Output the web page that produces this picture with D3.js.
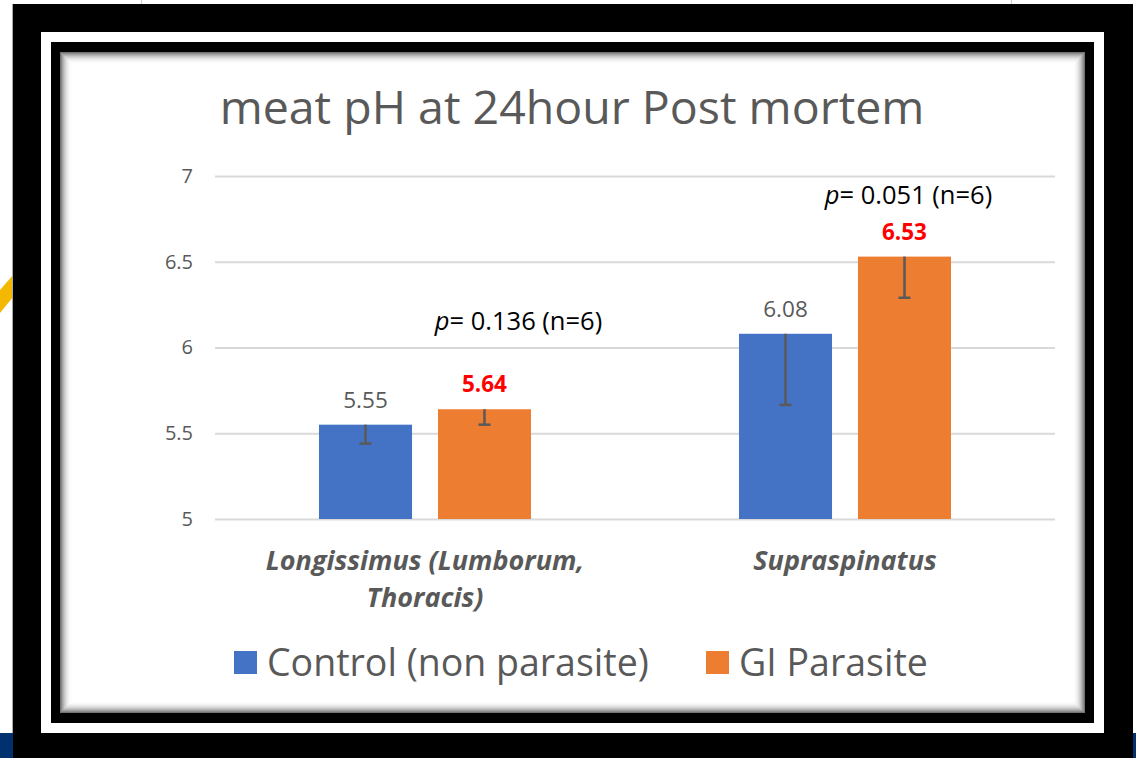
<!DOCTYPE html>
<html>
<head>
<meta charset="utf-8">
<script src="https://cdn.jsdelivr.net/npm/d3@7"></script>
<style>
	html, body { margin: 0; padding: 0; background: #fff; }
	svg { display: block; font-family: "Open Sans", Lato, sans-serif; }
</style>
</head>
<body>
<div id="chart"></div>
<script>
(function() {
	"use strict";

	// chart data
	var categories = ["Longissimus (Lumborum, Thoracis)", "Supraspinatus"];
	var categoryLines = [["Longissimus (Lumborum,", "Thoracis)"], ["Supraspinatus"]];
	var series = ["Control (non parasite)", "GI Parasite"];
	var controlValues = [5.55, 6.08];
	var parasiteValues = [5.64, 6.53];
	var controlErrMinus = [0.11, 0.415];
	var parasiteErrMinus = [0.09, 0.24];
	var pValues = ["0.136", "0.051"];
	var nValues = [6, 6];
	var yTicks = [5, 5.5, 6, 6.5, 7];

	var colors = ["#4472C4", "#ED7D31"];
	var labelColors = ["#595959", "#FF0000"];

	var width = 1136, height = 758;
	var svg = d3.select("#chart").append("svg")
		.attr("width", width)
		.attr("height", height);

	// --- screenshot framing ---
	svg.append("rect").attr("x", 0).attr("y", 733).attr("width", 13).attr("height", 25).attr("fill", "#00306e");
	svg.append("rect").attr("x", 1133).attr("y", 733).attr("width", 3).attr("height", 25).attr("fill", "#00306e");
	svg.append("polygon").attr("points", "0,290 13,275 13,297 0,313").attr("fill", "#f5b800");
	svg.append("line").attr("x1", 141.5).attr("x2", 141.5).attr("y1", 0).attr("y2", 4).attr("stroke", "#ccc");
	svg.append("line").attr("x1", 1011.5).attr("x2", 1011.5).attr("y1", 0).attr("y2", 4).attr("stroke", "#ccc");
	svg.append("line").attr("x1", 12.5).attr("x2", 12.5).attr("y1", 4).attr("y2", 733).attr("stroke", "#aaa");

	svg.append("rect").attr("x", 13).attr("y", 4).attr("width", 1120).attr("height", 754).attr("fill", "#000");
	svg.append("rect").attr("x", 41).attr("y", 32).attr("width", 1063).attr("height", 701).attr("fill", "#fff");
	svg.append("rect").attr("x", 51).attr("y", 42).attr("width", 1043).attr("height", 681).attr("fill", "#000");
	svg.append("rect").attr("x", 60).attr("y", 52).attr("width", 1025).attr("height", 661).attr("fill", "#fff");

	// inner shadow
	d3.range(12).forEach(function(i) {
		svg.append("rect")
			.attr("x", 60.5 + i).attr("y", 52.5 + i)
			.attr("width", 1024 - 2 * i).attr("height", 660 - 2 * i)
			.attr("fill", "none")
			.attr("stroke", "#000")
			.attr("stroke-opacity", 0.55 * Math.pow(1 - i / 12, 2.2));
	});

	// --- chart ---
	var plot = { left: 215, right: 1055, top: 176, bottom: 519 };

	var y = d3.scaleLinear().domain([5, 7]).range([plot.bottom, plot.top]);
	var x0 = d3.scaleBand().domain(categories).range([plot.left, plot.right]);
	var groupW = 212;
	var x1 = d3.scaleBand().domain(series)
		.range([(x0.bandwidth() - groupW) / 2, (x0.bandwidth() + groupW) / 2])
		.paddingInner(0.218);

	svg.append("text")
		.attr("x", 572).attr("y", 124)
		.attr("text-anchor", "middle")
		.attr("fill", "#595959")
		.style("font-size", "46.5px")
		.text("meat pH at 24hour Post mortem");

	// gridlines + y labels
	var yAxis = d3.axisLeft(y).tickValues(yTicks).tickSize(-(plot.right - plot.left)).tickPadding(22)
		.tickFormat(d3.format("~g"));
	var ga = svg.append("g").attr("transform", "translate(" + plot.left + ",0)").call(yAxis);
	ga.select(".domain").remove();
	ga.selectAll(".tick line").attr("stroke", "#d9d9d9").attr("stroke-width", 2);
	ga.selectAll(".tick text").attr("fill", "#595959").style("font-size", "20px").style("font-family", "Open Sans");

	var valuesBySeries = [controlValues, parasiteValues];
	var errBySeries = [controlErrMinus, parasiteErrMinus];

	var rows = [];
	categories.forEach(function(c, ci) {
		series.forEach(function(s, si) {
			rows.push({ cat: c, ci: ci, s: s, si: si, v: valuesBySeries[si][ci], e: errBySeries[si][ci] });
		});
	});

	var bars = svg.append("g").selectAll("g").data(rows).enter().append("g")
		.attr("transform", function(d) { return "translate(" + (x0(d.cat) + x1(d.s)) + ",0)"; });

	bars.append("rect")
		.attr("x", 0)
		.attr("y", function(d) { return y(d.v); })
		.attr("width", x1.bandwidth())
		.attr("height", function(d) { return y(5) - y(d.v); })
		.attr("fill", function(d) { return colors[d.si]; });

	// minus error bars
	var bw = x1.bandwidth();
	bars.append("line")
		.attr("x1", bw / 2).attr("x2", bw / 2)
		.attr("y1", function(d) { return y(d.v); })
		.attr("y2", function(d) { return y(d.v - d.e); })
		.attr("stroke", "#595959").attr("stroke-width", 2.5);
	bars.append("line")
		.attr("x1", bw / 2 - 6).attr("x2", bw / 2 + 6)
		.attr("y1", function(d) { return y(d.v - d.e); })
		.attr("y2", function(d) { return y(d.v - d.e); })
		.attr("stroke", "#595959").attr("stroke-width", 2.5);

	bars.append("text")
		.attr("x", bw / 2)
		.attr("y", function(d) { return y(d.v) - 17; })
		.attr("text-anchor", "middle")
		.attr("fill", function(d) { return labelColors[d.si]; })
		.style("font-size", "22.5px")
		.style("font-weight", function(d) { return d.si === 1 ? "bold" : "normal"; })
		.text(function(d) { return d3.format(".2f")(d.v); });

	// p-value notes
	var pNoteY = [6.10, 6.835];
	var pNoteDx = [34, 4];
	categories.forEach(function(c, ci) {
		var cx = x0(c) + x1(series[1]) + bw / 2 + pNoteDx[ci];
		var t = svg.append("text")
			.attr("x", cx).attr("y", y(pNoteY[ci]))
			.attr("text-anchor", "middle")
			.attr("fill", "#000")
			.style("font-size", "25.5px");
		t.append("tspan").style("font-style", "italic").text("p");
		t.append("tspan").text("= " + pValues[ci] + " (n=" + nValues[ci] + ")");
	});

	// category labels
	categories.forEach(function(c, ci) {
		var t = svg.append("text")
			.attr("x", x0(c) + x0.bandwidth() / 2)
			.attr("y", 570)
			.attr("text-anchor", "middle")
			.attr("fill", "#595959")
			.style("font-size", "27px")
			.style("font-weight", "bold")
			.style("font-style", "italic");
		categoryLines[ci].forEach(function(line, li) {
			t.append("tspan").attr("x", x0(c) + x0.bandwidth() / 2).attr("dy", li === 0 ? 0 : 37).text(line);
		});
	});

	// legend
	var legendX = [234, 706];
	var lg = svg.append("g").selectAll("g").data(series).enter().append("g")
		.attr("transform", function(d, i) { return "translate(" + legendX[i] + ",651)"; });
	lg.append("rect").attr("width", 23).attr("height", 23)
		.attr("fill", function(d, i) { return colors[i]; });
	lg.append("text")
		.attr("x", 33).attr("y", 25)
		.attr("fill", "#595959")
		.style("font-size", "37.5px")
		.text(function(d) { return d; });
})();
</script>
</body>
</html>
